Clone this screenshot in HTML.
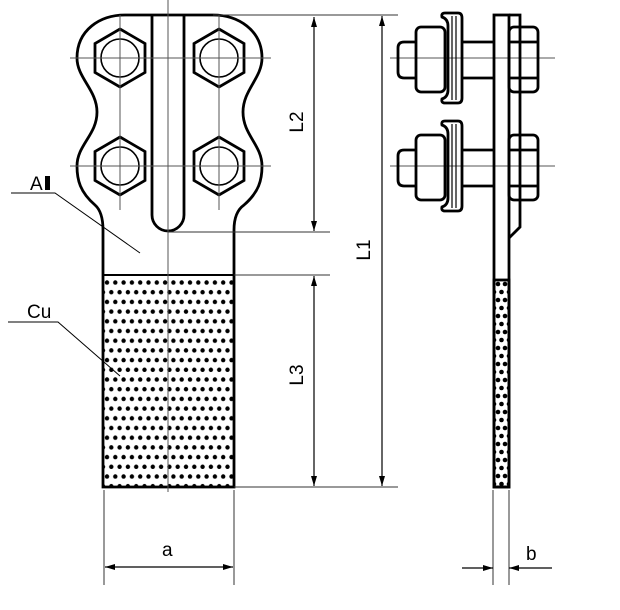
<!DOCTYPE html>
<html><head><style>
html,body{margin:0;padding:0;background:#fff;}
svg{display:block;}
text{font-family:"Liberation Sans",Arial,sans-serif;fill:#000;}
</style></head><body>
<svg width="620" height="610" viewBox="0 0 620 610" xmlns="http://www.w3.org/2000/svg">
<defs>
<pattern id="dots" x="103" y="278" width="16.6" height="19.4" patternUnits="userSpaceOnUse">
<circle cx="4" cy="4.5" r="2.2" fill="#000"/><circle cx="12.3" cy="4.5" r="2.2" fill="#000"/>
<circle cx="0" cy="14.2" r="2.2" fill="#000"/><circle cx="8.3" cy="14.2" r="2.2" fill="#000"/><circle cx="16.6" cy="14.2" r="2.2" fill="#000"/>
</pattern>
<pattern id="dots2" x="494" y="280" width="15" height="16" patternUnits="userSpaceOnUse">
<circle cx="4" cy="4" r="2.3" fill="#000"/><circle cx="11" cy="4" r="2.3" fill="#000"/>
<circle cx="7.5" cy="12" r="2.3" fill="#000"/><circle cx="0" cy="12" r="2.3" fill="#000"/><circle cx="15" cy="12" r="2.3" fill="#000"/>
</pattern>
<marker id="ar" viewBox="0 0 10 6" refX="10" refY="3" markerWidth="10" markerHeight="6" orient="auto-start-reverse" markerUnits="userSpaceOnUse"><path d="M0,0 L10,3 L0,6 z" fill="#000"/></marker>
</defs>
<g fill="none" stroke="#000">
<rect x="103" y="275" width="131" height="212" fill="url(#dots)" stroke="none"/>
<path d="M103,487 V230 Q103,212 95,205 C80,192 77,180 77,166 C77,145 97,135 97,112 C97,90 77,78 77,58 C77,30 100,15 125,15 H213 C238,15 262,30 262,58 C262,78 243,90 243,112 C243,135 262,145 262,166 C262,180 259,192 244,205 Q234,212 234,230 V487 Z" stroke-width="2.8"/>
<line x1="103" y1="275" x2="234" y2="275" stroke-width="2"/>
<path d="M152,15 V215 A16,16 0 0 0 184,215 V15" stroke-width="2.8"/>
<g stroke-width="2.8">
<polygon points="120,29 145,43.5 145,72.5 120,87 95,72.5 95,43.5"/>
<polygon points="219,29 244,43.5 244,72.5 219,87 194,72.5 194,43.5"/>
<polygon points="120,137 145,151.5 145,180.5 120,195 95,180.5 95,151.5"/>
<polygon points="219,137 244,151.5 244,180.5 219,195 194,180.5 194,151.5"/>
</g>
<g stroke-width="1.6">
<circle cx="120" cy="58" r="19"/><circle cx="219" cy="58" r="19"/>
<circle cx="120" cy="166" r="19"/><circle cx="219" cy="166" r="19"/>
</g>
<g stroke-width="1" stroke="#555">
<line x1="168" y1="0" x2="168" y2="492"/>
<line x1="120" y1="15" x2="120" y2="210"/><line x1="219" y1="15" x2="219" y2="210"/>
<line x1="70" y1="58" x2="271" y2="58"/><line x1="70" y1="166" x2="271" y2="166"/>
<line x1="390" y1="58" x2="555" y2="58"/><line x1="390" y1="166" x2="555" y2="166"/>
</g>
<g stroke-width="1" stroke="#333">
<line x1="213" y1="15" x2="398" y2="15"/>
<line x1="168" y1="232" x2="330" y2="232"/>
<line x1="234" y1="275" x2="330" y2="275"/>
<line x1="234" y1="487" x2="398" y2="487"/>
<line x1="104" y1="490" x2="104" y2="585"/><line x1="234" y1="490" x2="234" y2="585"/>
<line x1="493" y1="490" x2="493" y2="585"/><line x1="509" y1="490" x2="509" y2="585"/>
</g>
<g stroke-width="1.2">
<line x1="314" y1="17" x2="314" y2="231" marker-start="url(#ar)" marker-end="url(#ar)"/>
<line x1="314" y1="276" x2="314" y2="486" marker-start="url(#ar)" marker-end="url(#ar)"/>
<line x1="382" y1="16" x2="382" y2="486" marker-start="url(#ar)" marker-end="url(#ar)"/>
<line x1="105" y1="567" x2="233" y2="567" marker-start="url(#ar)" marker-end="url(#ar)"/>
<line x1="462" y1="568" x2="493" y2="568" marker-end="url(#ar)"/>
<line x1="552" y1="568" x2="509" y2="568" marker-end="url(#ar)"/>
</g>
<g stroke-width="1">
<polyline points="11,193 55,193 140,253"/>
<polyline points="8,322 58,322 120,376"/>
</g>
<g stroke-width="2.8">
<rect x="494" y="15" width="15" height="472"/>
<rect x="494" y="280" width="15" height="207" fill="url(#dots2)"/>
<path d="M509,15 H520 V227 L509,238"/>
<rect x="509" y="27" width="29" height="65" rx="5"/>
<line x1="509" y1="42" x2="538" y2="42"/><line x1="509" y1="78" x2="538" y2="78"/>
<rect x="416" y="27" width="29" height="65" rx="5"/>
<path d="M416,42 H404 Q398,42 398,48 V72 Q398,78 404,78 H416"/>
<path d="M445,13 H458 Q462,13 462,18 V98 Q462,103 458,103 H445 Q441,103 442,99 Q448,97 448,90 V26 Q448,19 442,17 Q441,13 445,13 Z"/>
<line x1="462" y1="42" x2="494" y2="42"/><line x1="462" y1="78" x2="494" y2="78"/>
<rect x="509" y="135" width="29" height="65" rx="5"/>
<line x1="509" y1="150" x2="538" y2="150"/><line x1="509" y1="186" x2="538" y2="186"/>
<rect x="416" y="135" width="29" height="65" rx="5"/>
<path d="M416,150 H404 Q398,150 398,156 V180 Q398,186 404,186 H416"/>
<path d="M445,121 H458 Q462,121 462,126 V206 Q462,211 458,211 H445 Q441,211 442,207 Q448,205 448,198 V134 Q448,127 442,125 Q441,121 445,121 Z"/>
<line x1="462" y1="150" x2="494" y2="150"/><line x1="462" y1="186" x2="494" y2="186"/>
</g>
<g stroke-width="1.2">
<line x1="452" y1="16" x2="452" y2="100"/><line x1="456" y1="16" x2="456" y2="100"/>
<line x1="452" y1="124" x2="452" y2="208"/><line x1="456" y1="124" x2="456" y2="208"/>
</g>
</g>
<text x="30" y="190" font-size="19">A</text>
<rect x="45" y="176" width="5" height="14" fill="#000"/>
<text x="27" y="318" font-size="19">Cu</text>
<text x="162" y="556" font-size="19">a</text>
<text x="526" y="560" font-size="19">b</text>
<text font-size="19" transform="translate(303,122) rotate(-90)" text-anchor="middle">L2</text>
<text font-size="19" transform="translate(370,250) rotate(-90)" text-anchor="middle">L1</text>
<text font-size="19" transform="translate(303,375) rotate(-90)" text-anchor="middle">L3</text>
</svg>
</body></html>
